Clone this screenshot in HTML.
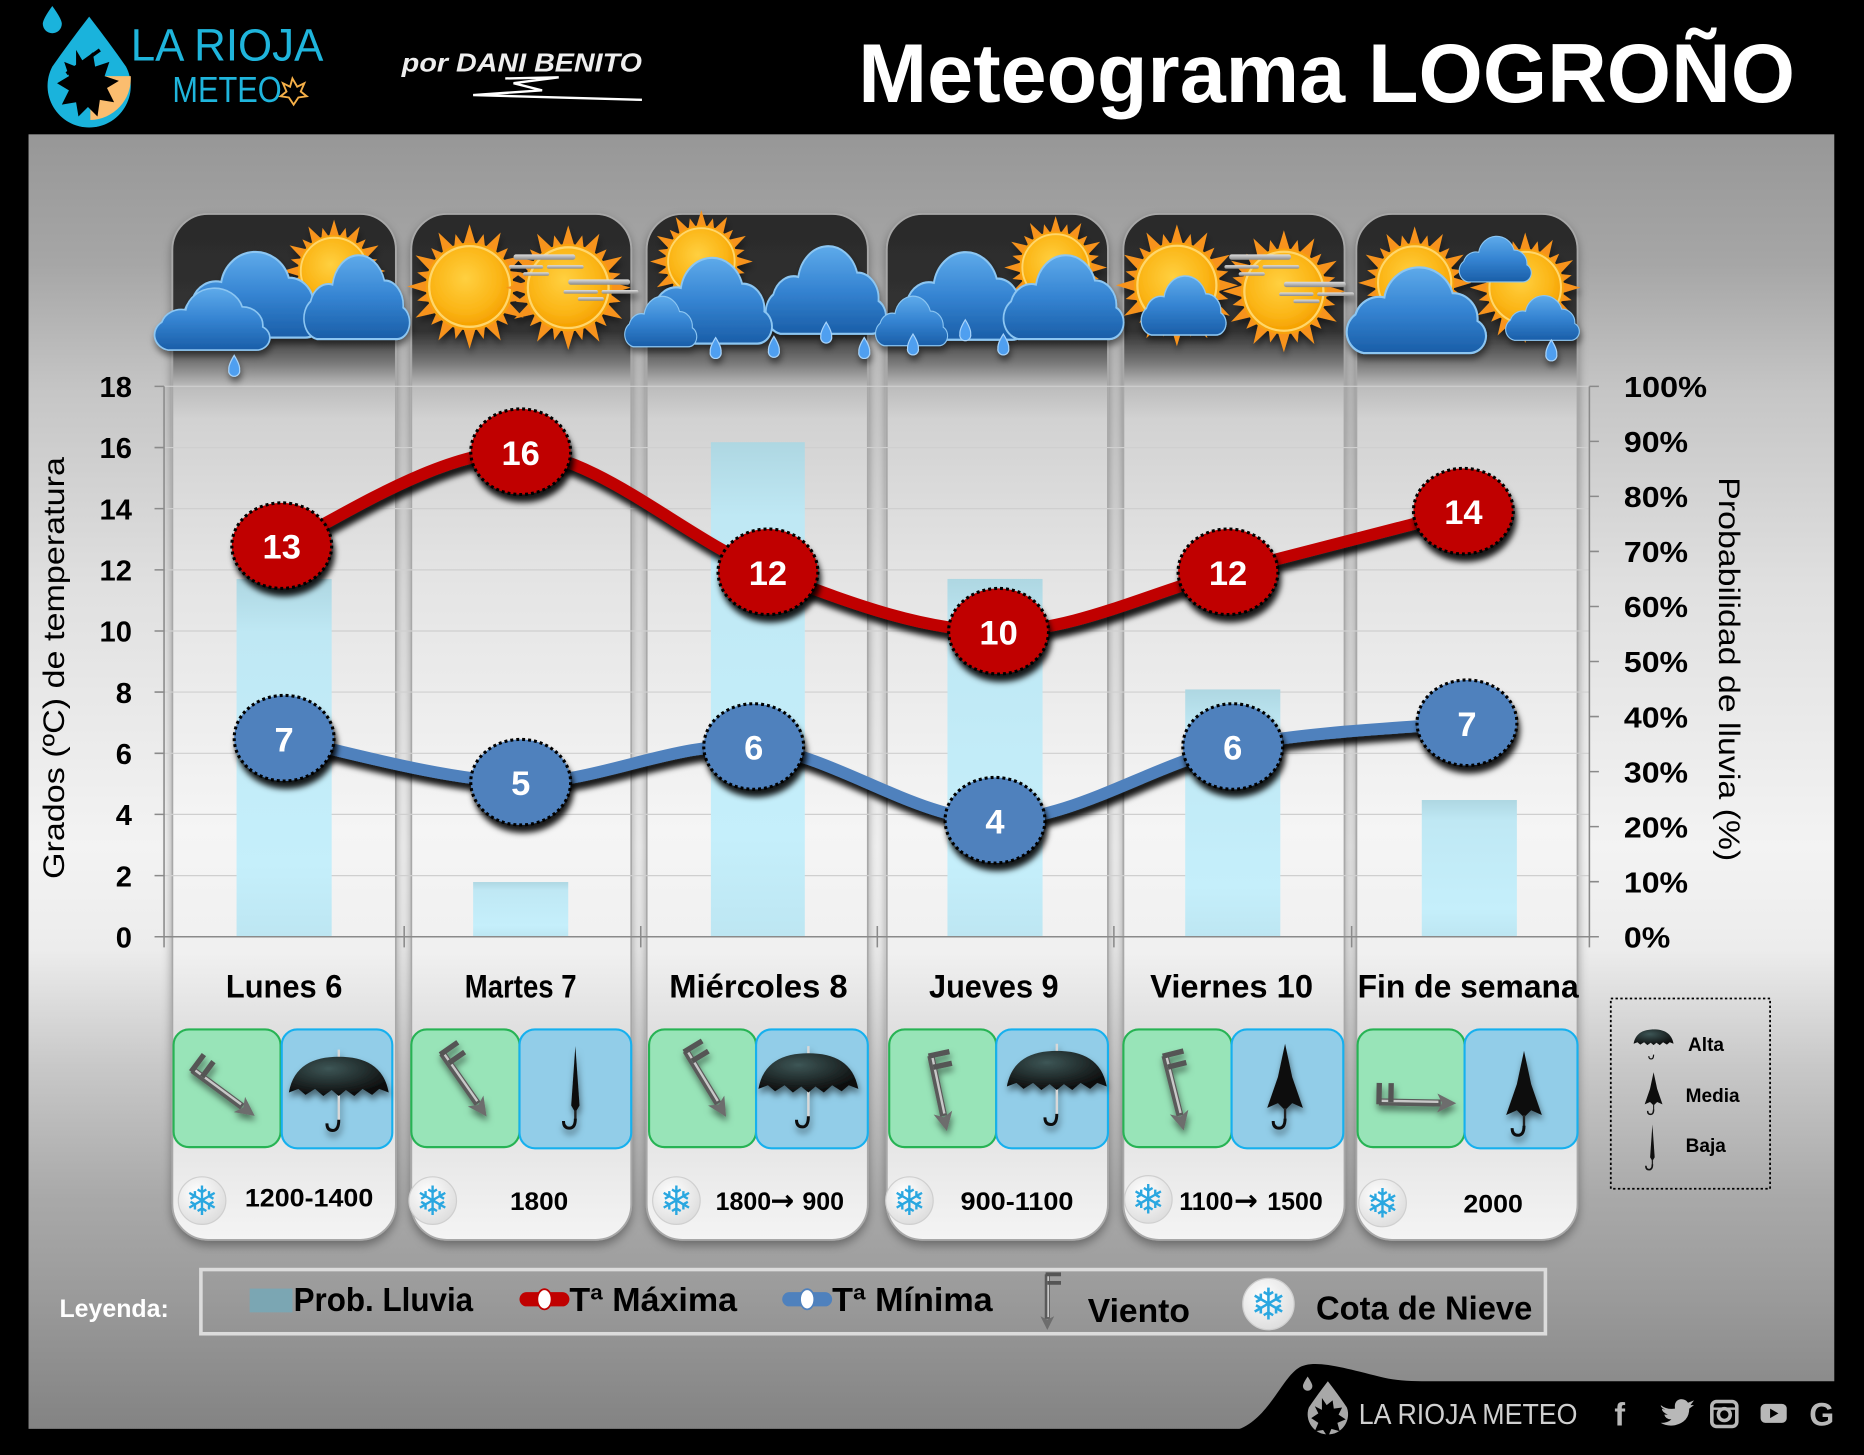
<!DOCTYPE html>
<html><head><meta charset="utf-8"><style>
html,body{margin:0;padding:0;background:#000;}
svg{display:block;}
text{font-family:"Liberation Sans",Arial,sans-serif;}
</style></head><body>
<svg xmlns="http://www.w3.org/2000/svg" width="1864" height="1455" viewBox="0 0 1568 1224" preserveAspectRatio="none">
<defs>
<linearGradient id="bgG" x1="0" y1="0" x2="0" y2="1">
<stop offset="0" stop-color="#979797"/><stop offset="0.1" stop-color="#a6a6a6"/><stop offset="0.2" stop-color="#c6c6c6"/>
<stop offset="0.35" stop-color="#e0e0e0"/><stop offset="0.55" stop-color="#f3f3f3"/><stop offset="0.63" stop-color="#ececec"/>
<stop offset="0.72" stop-color="#c8c8c8"/><stop offset="0.82" stop-color="#a9a9a9"/><stop offset="0.9" stop-color="#9a9a9a"/><stop offset="1" stop-color="#838383"/>
</linearGradient>
<linearGradient id="cardG" x1="0" y1="0" x2="0" y2="1">
<stop offset="0" stop-color="#2a2a2a"/><stop offset="0.115" stop-color="#333"/><stop offset="0.145" stop-color="#787878"/>
<stop offset="0.168" stop-color="#bcbcbc"/><stop offset="0.2" stop-color="#d2d2d2"/><stop offset="0.35" stop-color="#e4e4e4"/><stop offset="0.6" stop-color="#f5f5f5"/>
<stop offset="0.72" stop-color="#f0f0f0"/><stop offset="0.82" stop-color="#dadada"/><stop offset="0.92" stop-color="#e8e8e8"/><stop offset="1" stop-color="#f4f4f4"/>
</linearGradient>
<linearGradient id="barG" x1="0" y1="0" x2="0" y2="1">
<stop offset="0" stop-color="#aed7e2"/><stop offset="0.15" stop-color="#bfe8f4"/><stop offset="0.8" stop-color="#c5effb"/><stop offset="1" stop-color="#bde6f2"/>
</linearGradient>
<linearGradient id="cloudG" x1="0" y1="0" x2="0" y2="1">
<stop offset="0" stop-color="#5eaaea"/><stop offset="0.5" stop-color="#3584d2"/><stop offset="1" stop-color="#1a5ea8"/>
</linearGradient>
<radialGradient id="sunG" cx="0.45" cy="0.4" r="0.6">
<stop offset="0" stop-color="#ffd040"/><stop offset="0.7" stop-color="#fbb516"/><stop offset="1" stop-color="#f5a000"/>
</radialGradient>
<radialGradient id="umbG" cx="0.4" cy="0.3" r="0.7">
<stop offset="0" stop-color="#3d5656"/><stop offset="1" stop-color="#0c0c0c"/>
</radialGradient>
<radialGradient id="snowG" cx="0.4" cy="0.35" r="0.7">
<stop offset="0" stop-color="#ffffff"/><stop offset="1" stop-color="#dcdcdc"/>
</radialGradient>
<linearGradient id="fogG" x1="0" y1="0" x2="0" y2="1">
<stop offset="0" stop-color="#e0e0e0"/><stop offset="1" stop-color="#8a8a8a"/>
</linearGradient>
<filter id="sh" x="-30%" y="-30%" width="160%" height="170%">
<feDropShadow dx="2" dy="6" stdDeviation="2.5" flood-color="#000" flood-opacity="0.9"/>
</filter>
<filter id="csh" x="-10%" y="-5%" width="120%" height="110%">
<feDropShadow dx="0" dy="4" stdDeviation="4" flood-color="#000" flood-opacity="0.35"/>
</filter>
<filter id="ish" x="-20%" y="-20%" width="140%" height="150%">
<feDropShadow dx="1" dy="4" stdDeviation="3" flood-color="#000" flood-opacity="0.5"/>
</filter>

<g id="sun">
<g fill="#f7931e">
<path d="M-6,-34 L0,-54 L6,-34Z"/><path d="M-6,-34 L0,-54 L6,-34Z" transform="rotate(30)"/><path d="M-6,-34 L0,-54 L6,-34Z" transform="rotate(60)"/>
<path d="M-6,-34 L0,-54 L6,-34Z" transform="rotate(90)"/><path d="M-6,-34 L0,-54 L6,-34Z" transform="rotate(120)"/><path d="M-6,-34 L0,-54 L6,-34Z" transform="rotate(150)"/>
<path d="M-6,-34 L0,-54 L6,-34Z" transform="rotate(180)"/><path d="M-6,-34 L0,-54 L6,-34Z" transform="rotate(210)"/><path d="M-6,-34 L0,-54 L6,-34Z" transform="rotate(240)"/>
<path d="M-6,-34 L0,-54 L6,-34Z" transform="rotate(270)"/><path d="M-6,-34 L0,-54 L6,-34Z" transform="rotate(300)"/><path d="M-6,-34 L0,-54 L6,-34Z" transform="rotate(330)"/>
<path d="M-5,-34 L0,-47 L5,-34Z" transform="rotate(15)"/><path d="M-5,-34 L0,-47 L5,-34Z" transform="rotate(45)"/><path d="M-5,-34 L0,-47 L5,-34Z" transform="rotate(75)"/>
<path d="M-5,-34 L0,-47 L5,-34Z" transform="rotate(105)"/><path d="M-5,-34 L0,-47 L5,-34Z" transform="rotate(135)"/><path d="M-5,-34 L0,-47 L5,-34Z" transform="rotate(165)"/>
<path d="M-5,-34 L0,-47 L5,-34Z" transform="rotate(195)"/><path d="M-5,-34 L0,-47 L5,-34Z" transform="rotate(225)"/><path d="M-5,-34 L0,-47 L5,-34Z" transform="rotate(255)"/>
<path d="M-5,-34 L0,-47 L5,-34Z" transform="rotate(285)"/><path d="M-5,-34 L0,-47 L5,-34Z" transform="rotate(315)"/><path d="M-5,-34 L0,-47 L5,-34Z" transform="rotate(345)"/>
</g>
<circle r="38" fill="#f8a10a"/>
<circle r="35" fill="url(#sunG)" stroke="#ffd66a" stroke-width="2"/>
</g>

<g id="cloud">
<path d="M22,90 A20,20 0 0 1 14,54 A24,24 0 0 1 42,38 A34,34 0 0 1 108,34 A24,24 0 0 1 132,60 A16,16 0 0 1 124,90 Z" fill="url(#cloudG)" stroke="#8cc6f2" stroke-width="2"/>
</g>

<g id="drop"><path d="M0,-9 Q5,-1 4.5,3 A4.6,4.6 0 1 1 -4.5,3 Q-5,-1 0,-9Z" fill="#4f9ff0" stroke="#a8d4fb" stroke-width="1"/></g>

<g id="umbO">
<line x1="0" y1="-6" x2="0" y2="54" stroke="#d8d8d8" stroke-width="2"/>
<path d="M0,53 q0,9 -5,9 q-5,0 -5,-6" fill="none" stroke="#111" stroke-width="2.5"/>
<path d="M-42,30 C-38,8 -22,0 0,0 C22,0 38,8 42,30 L34,27 L28,32 L20,27 L13,33 L6,28 L0,33 L-6,28 L-13,33 L-20,27 L-28,32 L-34,27 Z" fill="url(#umbG)"/>
</g>
<g id="umbB">
<path d="M0,0 L3.5,50 L0,56 L-3.5,50 Z" fill="#111"/>
<line x1="0" y1="54" x2="0" y2="62" stroke="#222" stroke-width="2"/>
<path d="M0,61 q0,8 -5,8 q-5,0 -5,-6" fill="none" stroke="#111" stroke-width="2.5"/>
</g>
<g id="umbM">
<path d="M0,0 L6,28 L15,54 L6,50 L0,56 L-6,50 L-15,54 L-6,28 Z" fill="#0e0e0e"/>
<line x1="0" y1="54" x2="0" y2="64" stroke="#222" stroke-width="2"/>
<path d="M0,63 q0,8 -5,8 q-5,0 -5,-6" fill="none" stroke="#111" stroke-width="2.5"/>
</g>
<g id="wind">
<line x1="0" y1="0" x2="52" y2="0" stroke="#5a5a5a" stroke-width="6"/>
<line x1="2" y1="-1" x2="50" y2="-1" stroke="#c8c8c8" stroke-width="2"/>
<path d="M49,-8 L65,0 L49,8 L53,0 Z" fill="#6d6d6d"/>
<path d="M0,2 L0,-16 M10,0 L10,-16" stroke="#555" stroke-width="4.5" fill="none"/>
</g>
<g id="snow">
<circle r="20" fill="url(#snowG)" stroke="#cfcfcf" stroke-width="1"/>
<text x="0" y="12" text-anchor="middle" font-size="34" fill="#2aa7e0" style="font-family:'DejaVu Sans',sans-serif">❄</text>
</g>
<g id="fog">
<rect x="0" y="0" width="52" height="4.5" rx="2" fill="url(#fogG)"/>
<rect x="-4" y="9" width="29" height="3" rx="1.5" fill="url(#fogG)"/>
<rect x="28" y="9" width="31" height="3" rx="1.5" fill="url(#fogG)"/>
<rect x="8" y="15" width="22" height="3" rx="1.5" fill="url(#fogG)"/>
</g>
</defs>

<!-- background -->
<rect width="1568" height="1224" fill="#000"/>
<rect x="24" y="113" width="1519" height="1089" fill="url(#bgG)"/>

<!-- header -->
<g>
<path d="M44,5 Q52,16 52,20 A8,8 0 1 1 36,20 Q36,16 44,5Z" fill="#1ab3dc"/>
<path d="M75,14 Q92,36 106,56 A35,35 0 1 1 44,56 Q58,36 75,14Z" fill="#1ab3dc"/>
<path d="M76,64 L110,64 A35,35 0 0 1 76,101 Z" fill="#fbbd6f"/>
<path d="M64,42 L70,52 L78,44 L80,56 L92,52 L88,64 L100,68 L90,74 L96,86 L84,84 L82,98 L74,90 L66,98 L64,86 L52,88 L58,76 L48,70 L58,64 L54,52 L64,56 Z" fill="#000"/>
<line x1="56" y1="62" x2="84" y2="42" stroke="#000" stroke-width="3"/>
<text x="110" y="51" font-size="38" fill="#1fb5dc" textLength="162" lengthAdjust="spacingAndGlyphs">LA RIOJA</text>
<text x="145" y="86" font-size="30" fill="#1fb5dc" textLength="92" lengthAdjust="spacingAndGlyphs">METEO</text>
<path d="M246,66 L250,73 L256,70 L253,77 L258,81 L251,82 L247,88 L243,82 L236,81 L241,77 L238,70 L244,73 Z" fill="none" stroke="#f6b048" stroke-width="1.6"/>
<text x="338" y="60" font-size="22" font-weight="bold" font-style="italic" fill="#eeeeee" textLength="202" lengthAdjust="spacingAndGlyphs">por DANI BENITO</text>
<path d="M425,66 L470,65 L432,70 L456,76 L398,80 L540,84" fill="none" stroke="#ffffff" stroke-width="2"/>
<text x="722" y="86" font-size="70" font-weight="bold" fill="#ffffff" textLength="788" lengthAdjust="spacingAndGlyphs">Meteograma LOGROÑO</text>
</g>

<!-- cards -->
<g filter="url(#csh)">
<rect x="145" y="180" width="188" height="863" rx="30" fill="url(#cardG)" stroke="#a8a8a8" stroke-width="1.5"/>
<rect x="346" y="180" width="185" height="863" rx="30" fill="url(#cardG)" stroke="#a8a8a8" stroke-width="1.5"/>
<rect x="544" y="180" width="186" height="863" rx="30" fill="url(#cardG)" stroke="#a8a8a8" stroke-width="1.5"/>
<rect x="746" y="180" width="186" height="863" rx="30" fill="url(#cardG)" stroke="#a8a8a8" stroke-width="1.5"/>
<rect x="945" y="180" width="186" height="863" rx="30" fill="url(#cardG)" stroke="#a8a8a8" stroke-width="1.5"/>
<rect x="1141" y="180" width="186" height="863" rx="30" fill="url(#cardG)" stroke="#a8a8a8" stroke-width="1.5"/>
</g>

<!-- gridlines -->
<g stroke="#cfcfcf" stroke-width="1">
<line x1="138" y1="325" x2="1337" y2="325"/><line x1="138" y1="376.5" x2="1337" y2="376.5"/>
<line x1="138" y1="427.9" x2="1337" y2="427.9"/><line x1="138" y1="479.4" x2="1337" y2="479.4"/>
<line x1="138" y1="530.8" x2="1337" y2="530.8"/><line x1="138" y1="582.2" x2="1337" y2="582.2"/>
<line x1="138" y1="633.7" x2="1337" y2="633.7"/><line x1="138" y1="685.1" x2="1337" y2="685.1"/>
<line x1="138" y1="736.6" x2="1337" y2="736.6"/>
</g>

<!-- bars -->
<g fill="url(#barG)">
<rect x="199" y="487" width="80" height="301"/>
<rect x="398" y="742" width="80" height="46"/>
<rect x="598" y="372" width="79" height="416"/>
<rect x="797" y="487" width="80" height="301"/>
<rect x="997" y="580" width="80" height="208"/>
<rect x="1196" y="673" width="80" height="115"/>
</g>

<!-- axes -->
<g stroke="#8a8a8a" stroke-width="1.3" fill="none">
<line x1="138" y1="325" x2="138" y2="797"/>
<line x1="1337" y1="325" x2="1337" y2="797"/>
<line x1="130" y1="788" x2="1345" y2="788"/>
<path d="M130,325H138M130,376.5H138M130,427.9H138M130,479.4H138M130,530.8H138M130,582.2H138M130,633.7H138M130,685.1H138M130,736.6H138"/>
<path d="M1337,325H1345M1337,371.3H1345M1337,417.6H1345M1337,463.9H1345M1337,510.2H1345M1337,556.5H1345M1337,602.8H1345M1337,649.1H1345M1337,695.4H1345M1337,741.7H1345"/>
<path d="M340,779V797M539,779V797M738,779V797M937,779V797M1137,779V797"/>
</g>

<!-- tick labels -->
<g font-size="24.5" font-weight="bold" fill="#000" text-anchor="end">
<text x="111" y="334">18</text><text x="111" y="385.5">16</text><text x="111" y="437">14</text>
<text x="111" y="488.4">12</text><text x="111" y="539.8">10</text><text x="111" y="591.2">8</text>
<text x="111" y="642.7">6</text><text x="111" y="694.1">4</text><text x="111" y="745.6">2</text>
<text x="111" y="797">0</text>
</g>
<g font-size="24.5" font-weight="bold" fill="#000">
<text x="1366" y="334" textLength="70" lengthAdjust="spacingAndGlyphs">100%</text>
<text x="1366" y="380.3" textLength="54" lengthAdjust="spacingAndGlyphs">90%</text>
<text x="1366" y="426.6" textLength="54" lengthAdjust="spacingAndGlyphs">80%</text>
<text x="1366" y="472.9" textLength="54" lengthAdjust="spacingAndGlyphs">70%</text>
<text x="1366" y="519.2" textLength="54" lengthAdjust="spacingAndGlyphs">60%</text>
<text x="1366" y="565.5" textLength="54" lengthAdjust="spacingAndGlyphs">50%</text>
<text x="1366" y="611.8" textLength="54" lengthAdjust="spacingAndGlyphs">40%</text>
<text x="1366" y="658.1" textLength="54" lengthAdjust="spacingAndGlyphs">30%</text>
<text x="1366" y="704.4" textLength="54" lengthAdjust="spacingAndGlyphs">20%</text>
<text x="1366" y="750.7" textLength="54" lengthAdjust="spacingAndGlyphs">10%</text>
<text x="1366" y="797" textLength="39" lengthAdjust="spacingAndGlyphs">0%</text>
</g>
<text transform="translate(54,562) rotate(-90)" text-anchor="middle" font-size="25" fill="#000" textLength="355" lengthAdjust="spacingAndGlyphs">Grados (ºC) de temperatura</text>
<text transform="translate(1446,563) rotate(90)" text-anchor="middle" font-size="25" fill="#000" textLength="323" lengthAdjust="spacingAndGlyphs">Probabilidad de lluvia (%)</text>

<!-- lines -->
<path d="M237,459 C270.5,445.8 369.8,376.3 438,380 C506.2,383.7 579,455.8 646,481 C713,506.2 775.5,531 840,531 C904.5,531 967.8,497.8 1033,481 C1098.2,464.2 1198,438.5 1231,430" fill="none" stroke="#c00000" stroke-width="10" stroke-linecap="round" filter="url(#sh)"/>
<path d="M239,621 C272.2,627.2 372.2,656.8 438,658 C503.8,659.2 567.5,622.7 634,628 C700.5,633.3 769.8,690 837,690 C904.2,690 970.8,641.7 1037,628 C1103.2,614.3 1201.2,611.3 1234,608" fill="none" stroke="#4f81bd" stroke-width="10" stroke-linecap="round" filter="url(#sh)"/>

<!-- markers -->
<g stroke="#000" stroke-width="2.6" stroke-dasharray="2.5,2.5">
<g fill="#c00000">
<ellipse cx="237" cy="459" rx="42" ry="36" filter="url(#sh)"/>
<ellipse cx="438" cy="380" rx="42" ry="36" filter="url(#sh)"/>
<ellipse cx="646" cy="481" rx="42" ry="36" filter="url(#sh)"/>
<ellipse cx="840" cy="531" rx="42" ry="36" filter="url(#sh)"/>
<ellipse cx="1033" cy="481" rx="42" ry="36" filter="url(#sh)"/>
<ellipse cx="1231" cy="430" rx="42" ry="36" filter="url(#sh)"/>
</g>
<g fill="#4f81bd">
<ellipse cx="239" cy="621" rx="42" ry="36" filter="url(#sh)"/>
<ellipse cx="438" cy="658" rx="42" ry="36" filter="url(#sh)"/>
<ellipse cx="634" cy="628" rx="42" ry="36" filter="url(#sh)"/>
<ellipse cx="837" cy="690" rx="42" ry="36" filter="url(#sh)"/>
<ellipse cx="1037" cy="628" rx="42" ry="36" filter="url(#sh)"/>
<ellipse cx="1234" cy="608" rx="42" ry="36" filter="url(#sh)"/>
</g>
</g>
<g font-size="29" font-weight="bold" fill="#fff" text-anchor="middle">
<text x="237" y="470">13</text><text x="438" y="391">16</text><text x="646" y="492">12</text>
<text x="840" y="542">10</text><text x="1033" y="492">12</text><text x="1231" y="441">14</text>
<text x="239" y="632">7</text><text x="438" y="669">5</text><text x="634" y="639">6</text>
<text x="837" y="701">4</text><text x="1037" y="639">6</text><text x="1234" y="619">7</text>
</g>

<!-- weather icons -->
<g filter="url(#ish)">
<use href="#sun" transform="translate(281,228) scale(0.8)"/>
<use href="#cloud" transform="translate(150,203) scale(0.86,0.9)"/>
<use href="#cloud" transform="translate(252,206) scale(0.66,0.88)"/>
<use href="#cloud" transform="translate(126,236) scale(0.72,0.65)"/>
<use href="#drop" transform="translate(197,308)"/>
<use href="#sun" transform="translate(395,241) scale(0.97)"/>
<use href="#sun" transform="translate(478,242) scale(0.97)"/>
<use href="#fog" transform="translate(432,214)"/>
<use href="#fog" transform="translate(478,235)"/>
<use href="#sun" transform="translate(590,220) scale(0.8)"/>
<use href="#cloud" transform="translate(640,198) scale(0.75,0.92)"/>
<use href="#cloud" transform="translate(540,208) scale(0.78,0.9)"/>
<use href="#cloud" transform="translate(523,244) scale(0.45,0.53)"/>
<use href="#drop" transform="translate(602,293)"/>
<use href="#drop" transform="translate(651,292)"/>
<use href="#drop" transform="translate(695,280)"/>
<use href="#drop" transform="translate(727,293)"/>
<use href="#sun" transform="translate(888,225) scale(0.8)"/>
<use href="#cloud" transform="translate(752,203) scale(0.8,0.92)"/>
<use href="#cloud" transform="translate(840,206) scale(0.75,0.88)"/>
<use href="#cloud" transform="translate(734,244) scale(0.45,0.52)"/>
<use href="#drop" transform="translate(768,290)"/>
<use href="#drop" transform="translate(812,278)"/>
<use href="#drop" transform="translate(844,290)"/>
<use href="#sun" transform="translate(990,240) scale(0.95)"/>
<use href="#cloud" transform="translate(957,226) scale(0.53,0.62)"/>
<use href="#sun" transform="translate(1080,245) scale(0.95)"/>
<use href="#fog" transform="translate(1034,214)"/>
<use href="#fog" transform="translate(1080,237)"/>
<use href="#sun" transform="translate(1190,238) scale(0.88)"/>
<use href="#sun" transform="translate(1283,242) scale(0.86)"/>
<use href="#cloud" transform="translate(1225,194) scale(0.45,0.48)"/>
<use href="#cloud" transform="translate(1128,216) scale(0.87,0.9)"/>
<use href="#cloud" transform="translate(1264,244) scale(0.46,0.47)"/>
<use href="#drop" transform="translate(1305,295)"/>
</g>

<!-- day labels -->
<g font-size="27" font-weight="bold" fill="#000" text-anchor="middle">
<text x="239" y="839" textLength="98" lengthAdjust="spacingAndGlyphs">Lunes 6</text>
<text x="438" y="839" textLength="94" lengthAdjust="spacingAndGlyphs">Martes 7</text>
<text x="638" y="839" textLength="150" lengthAdjust="spacingAndGlyphs">Miércoles 8</text>
<text x="836" y="839" textLength="109" lengthAdjust="spacingAndGlyphs">Jueves 9</text>
<text x="1036" y="839" textLength="137" lengthAdjust="spacingAndGlyphs">Viernes 10</text>
<text x="1235" y="839" textLength="186" lengthAdjust="spacingAndGlyphs">Fin de semana</text>
</g>

<!-- wind/rain boxes -->
<g stroke-width="1.8">
<rect x="146" y="866" width="90" height="99" rx="13" fill="#98e4b8" stroke="#27b354"/>
<rect x="237" y="866" width="93" height="100" rx="13" fill="#92cde8" stroke="#16b0ee"/>
<rect x="346" y="866" width="91" height="99" rx="13" fill="#98e4b8" stroke="#27b354"/>
<rect x="437" y="866" width="94" height="100" rx="13" fill="#92cde8" stroke="#16b0ee"/>
<rect x="546" y="866" width="90" height="99" rx="13" fill="#98e4b8" stroke="#27b354"/>
<rect x="636" y="866" width="94" height="100" rx="13" fill="#92cde8" stroke="#16b0ee"/>
<rect x="748" y="866" width="90" height="99" rx="13" fill="#98e4b8" stroke="#27b354"/>
<rect x="838" y="866" width="94" height="100" rx="13" fill="#92cde8" stroke="#16b0ee"/>
<rect x="945" y="866" width="91" height="99" rx="13" fill="#98e4b8" stroke="#27b354"/>
<rect x="1036" y="866" width="94" height="100" rx="13" fill="#92cde8" stroke="#16b0ee"/>
<rect x="1142" y="866" width="90" height="99" rx="13" fill="#98e4b8" stroke="#27b354"/>
<rect x="1232" y="866" width="95" height="100" rx="13" fill="#92cde8" stroke="#16b0ee"/>
</g>
<g filter="url(#ish)">
<use href="#wind" transform="translate(162,900) rotate(36.5)"/>
<use href="#wind" transform="translate(372,886) rotate(55)"/>
<use href="#wind" transform="translate(577,884) rotate(58.7)"/>
<use href="#wind" transform="translate(783,888) rotate(78)"/>
<use href="#wind" transform="translate(980,888) rotate(76)"/>
<use href="#wind" transform="translate(1160,927) rotate(1)"/>
<use href="#umbO" transform="translate(285,889)"/>
<use href="#umbB" transform="translate(484,880)"/>
<use href="#umbO" transform="translate(680,886)"/>
<use href="#umbO" transform="translate(889,884)"/>
<use href="#umbM" transform="translate(1081,878)"/>
<use href="#umbM" transform="translate(1282,884)"/>
</g>

<!-- snow -->
<use href="#snow" transform="translate(170,1010)"/>
<use href="#snow" transform="translate(364,1010)"/>
<use href="#snow" transform="translate(569,1010)"/>
<use href="#snow" transform="translate(765,1010)"/>
<use href="#snow" transform="translate(966,1009)"/>
<use href="#snow" transform="translate(1163,1012)"/>
<g font-size="21" font-weight="bold" fill="#000">
<text x="206" y="1015" textLength="108" lengthAdjust="spacingAndGlyphs">1200-1400</text>
<text x="429" y="1018" textLength="49" lengthAdjust="spacingAndGlyphs">1800</text>
<text x="602" y="1018">1800</text>
<text x="648" y="1018" font-size="24" style="font-family:'DejaVu Sans',sans-serif">→</text>
<text x="675" y="1018">900</text>
<text x="808" y="1018" textLength="95" lengthAdjust="spacingAndGlyphs">900-1100</text>
<text x="992" y="1018">1100</text>
<text x="1038" y="1018" font-size="24" style="font-family:'DejaVu Sans',sans-serif">→</text>
<text x="1066" y="1018">1500</text>
<text x="1231" y="1020" textLength="50" lengthAdjust="spacingAndGlyphs">2000</text>
</g>

<!-- right legend -->
<rect x="1355" y="840" width="134" height="160" fill="none" stroke="#000" stroke-width="1.5" stroke-dasharray="2,2"/>
<use href="#umbO" transform="translate(1391,866) scale(0.4)"/>
<use href="#umbM" transform="translate(1391,902) scale(0.5)"/>
<use href="#umbB" transform="translate(1390,946) scale(0.55)"/>
<g font-size="16" font-weight="bold" fill="#000">
<text x="1420" y="884">Alta</text>
<text x="1418" y="927">Media</text>
<text x="1418" y="969">Baja</text>
</g>

<!-- bottom legend -->
<text x="50" y="1108" font-size="21" font-weight="bold" fill="#fff" textLength="92" lengthAdjust="spacingAndGlyphs">Leyenda:</text>
<rect x="169" y="1068" width="1131" height="54" fill="none" stroke="#dcdcdc" stroke-width="3"/>
<rect x="210" y="1084" width="36" height="20" fill="#7ba6b3"/>
<g font-size="28" font-weight="bold" fill="#000">
<text x="247" y="1103" textLength="151" lengthAdjust="spacingAndGlyphs">Prob. Lluvia</text>
<text x="479" y="1103" textLength="141" lengthAdjust="spacingAndGlyphs">Tª Máxima</text>
<text x="700" y="1103" textLength="135" lengthAdjust="spacingAndGlyphs">Tª Mínima</text>
<text x="915" y="1112" textLength="86" lengthAdjust="spacingAndGlyphs">Viento</text>
<text x="1107" y="1110" textLength="182" lengthAdjust="spacingAndGlyphs">Cota de Nieve</text>
</g>
<rect x="437" y="1087" width="42" height="12" rx="6" fill="#c00000"/>
<ellipse cx="458" cy="1093" rx="6" ry="8.5" fill="#fff" stroke="#c00000" stroke-width="1.5"/>
<rect x="658" y="1087" width="42" height="12" rx="6" fill="#4f81bd"/>
<ellipse cx="679" cy="1093" rx="6" ry="8.5" fill="#fff" stroke="#4f81bd" stroke-width="1.5"/>
<use href="#wind" transform="translate(881,1072) rotate(90) scale(0.72)"/>
<use href="#snow" transform="translate(1067,1097) scale(1.08)"/>

<!-- footer -->
<path d="M1040,1203 C1066,1195 1078,1160 1092,1151 C1104,1143 1128,1150 1160,1158 C1175,1162 1190,1162 1210,1162 L1544,1162 L1544,1203 Z" fill="#000"/>
<path d="M1100,1158 Q1104,1164 1104,1166 A4,4 0 1 1 1096,1166 Q1096,1164 1100,1158Z" fill="#a8a8a8"/>
<path d="M1117,1162 Q1127,1175 1133,1184 A17,17 0 1 1 1101,1184 Q1107,1175 1117,1162Z" fill="#a8a8a8"/>
<path d="M1112,1176 L1116,1182 L1121,1178 L1122,1185 L1129,1184 L1126,1190 L1132,1194 L1125,1197 L1127,1204 L1120,1202 L1117,1209 L1113,1203 L1106,1204 L1109,1197 L1103,1193 L1109,1189 L1106,1183 L1112,1186Z" fill="#000"/>
<text x="1143" y="1198" font-size="24" fill="#cfcfcf" textLength="184" lengthAdjust="spacingAndGlyphs">LA RIOJA METEO</text>
<g fill="#b8b8b8">
<text x="1358" y="1199" font-size="27" font-weight="bold">f</text>
<path d="M1397,1182 Q1402,1186 1409,1185 Q1408,1178 1414,1177 Q1418,1177 1420,1180 L1425,1178 L1422,1182 L1425,1182 L1421,1185 Q1421,1196 1409,1199 Q1402,1200 1397,1197 Q1403,1197 1406,1194 Q1401,1194 1400,1190 L1403,1190 Q1398,1188 1398,1185 L1401,1186 Q1397,1184 1397,1182Z"/>
<rect x="1440" y="1179" width="21" height="21" rx="4" fill="none" stroke="#b8b8b8" stroke-width="3"/>
<circle cx="1450.5" cy="1190" r="5" fill="none" stroke="#b8b8b8" stroke-width="3"/>
<rect x="1441" y="1184" width="19" height="2" fill="#b8b8b8"/>
<rect x="1481" y="1181" width="22" height="16" rx="4"/>
<path d="M1489,1185 L1496,1189 L1489,1193Z" fill="#000"/>
<text x="1522" y="1199" font-size="27" font-weight="bold">G</text>
</g>
</svg>
</body></html>
